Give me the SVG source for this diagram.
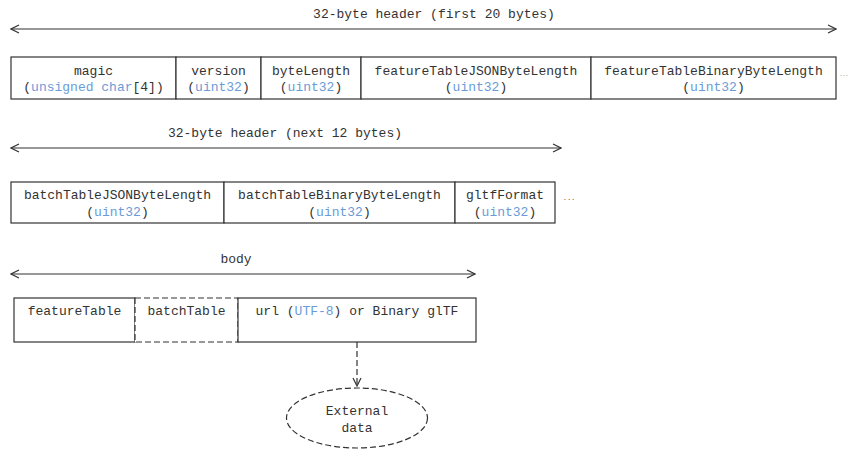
<svg xmlns="http://www.w3.org/2000/svg" width="850" height="457" viewBox="0 0 850 457">
<defs>
<marker id="open" viewBox="0 0 10 10" refX="9" refY="5" markerWidth="10" markerHeight="10" markerUnits="userSpaceOnUse" orient="auto-start-reverse">
<path d="M1,1 L9,5 L1,9" fill="none" stroke="#333" stroke-width="1.2"/>
</marker>
</defs>
<style>
text{font-family:"Liberation Mono","Courier New",monospace;font-size:13px;fill:#333;text-anchor:middle;dominant-baseline:central}
.b{fill:#6a9bd8}
.dots{font-size:7px;fill:#555}
.box{fill:#fff;stroke:#333;stroke-width:1.2}
.dash{fill:#fff;stroke:#333;stroke-width:1.2;stroke-dasharray:6 3}
.conn{fill:none;stroke:#333;stroke-width:1.2}
</style>
<rect width="850" height="457" fill="#fff"/>
<g id="connectors">
<line class="conn" x1="11" y1="29" x2="836" y2="29" marker-start="url(#open)" marker-end="url(#open)"/>
<line class="conn" x1="11" y1="148" x2="561" y2="148" marker-start="url(#open)" marker-end="url(#open)"/>
<line class="conn" x1="11" y1="274" x2="475" y2="274" marker-start="url(#open)" marker-end="url(#open)"/>
<line class="conn" x1="357" y1="342" x2="357" y2="386" stroke-dasharray="6 3" marker-end="url(#open)"/>
</g>
<g id="labels">
<text x="434" y="14">32-byte header (first 20 bytes)</text>
<text x="285" y="133">32-byte header (next 12 bytes)</text>
<text x="236" y="259">body</text>
</g>
<g id="magic"><rect class="box" x="11" y="57" width="165" height="42"/><text x="93.5" y="71">magic</text><text x="93.5" y="87">(<tspan class="b">unsigned char</tspan>[4])</text></g>
<g id="version"><rect class="box" x="176" y="57" width="85" height="42"/><text x="218.5" y="71">version</text><text x="218.5" y="87">(<tspan class="b">uint32</tspan>)</text></g>
<g id="byteLength"><rect class="box" x="261" y="57" width="100" height="42"/><text x="311" y="71">byteLength</text><text x="311" y="87">(<tspan class="b">uint32</tspan>)</text></g>
<g id="featureTableJSONByteLength"><rect class="box" x="361" y="57" width="230" height="42"/><text x="476" y="71">featureTableJSONByteLength</text><text x="476" y="87">(<tspan class="b">uint32</tspan>)</text></g>
<g id="featureTableBinaryByteLength"><rect class="box" x="591" y="57" width="245" height="42"/><text x="713.5" y="71">featureTableBinaryByteLength</text><text x="713.5" y="87">(<tspan class="b">uint32</tspan>)</text></g>
<g id="ellipsis1"><text class="dots" x="844" y="75" style="font-size:5px">...</text></g>
<g id="batchTableJSONByteLength"><rect class="box" x="11" y="182" width="213" height="41"/><text x="117.5" y="195">batchTableJSONByteLength</text><text x="117.5" y="212">(<tspan class="b">uint32</tspan>)</text></g>
<g id="batchTableBinaryByteLength"><rect class="box" x="224" y="182" width="231" height="41"/><text x="339.5" y="195">batchTableBinaryByteLength</text><text x="339.5" y="212">(<tspan class="b">uint32</tspan>)</text></g>
<g id="gltfFormat"><rect class="box" x="455" y="182" width="100" height="41"/><text x="505" y="195">gltfFormat</text><text x="505" y="212">(<tspan class="b">uint32</tspan>)</text></g>
<g id="ellipsis2"><text class="dots" x="569" y="198">...</text></g>
<g id="featureTable"><rect class="box" x="14" y="298" width="121" height="44"/><text x="74.5" y="311">featureTable</text></g>
<g id="batchTable"><rect class="dash" x="135" y="298" width="103" height="44"/><text x="186.5" y="311">batchTable</text></g>
<g id="gltf"><rect class="box" x="238" y="298" width="238" height="44"/><text x="357" y="311">url (<tspan class="b">UTF-8</tspan>) or Binary glTF</text></g>
<g id="external"><ellipse cx="357" cy="418" rx="70.5" ry="30" fill="#fff" stroke="#333" stroke-width="1.2" stroke-dasharray="6 3"/><text x="357" y="411">External</text><text x="357" y="428">data</text></g>
</svg>
